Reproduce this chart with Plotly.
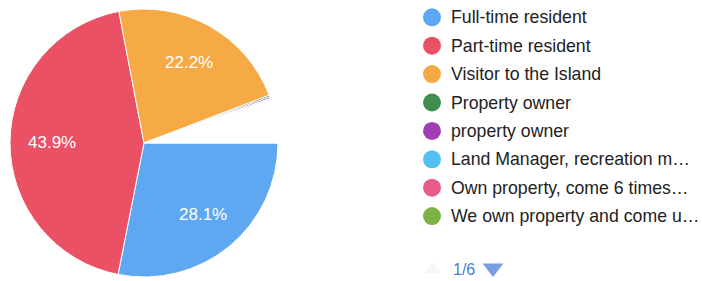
import math
import plotly.graph_objects as go

# ---- data ----
categories = [
    "Full-time resident",
    "Part-time resident",
    "Visitor to the Island",
    "Property owner",
    "property owner",
    "Land Manager, recreation m…",
    "Own property, come 6 times…",
    "We own property and come u…",
    "Other responses",
]
values = [28.1, 43.9, 22.2, 0.2, 0.2, 0.1, 0.1, 0.1, 5.1]
colors = ["#5ea8f2", "#ea5165", "#f6aa45", "#3f8e4e", "#a23eb3",
          "#52c0f0", "#ec5b90", "#7cb246", "#ffffff"]
legend_count = 8
page_label = "1/6"

W, H = 702, 281
FONT = "Arial, 'Liberation Sans', sans-serif"

# pie geometry in pixels
cx, cy, r = 144, 143, 134
start_deg = 90  # first slice starts at 3 o'clock, clockwise

fig = go.Figure()
fig.add_trace(go.Pie(
    labels=categories,
    values=values,
    sort=False,
    direction="clockwise",
    rotation=start_deg,
    marker=dict(colors=colors, line=dict(color="white", width=1)),
    textinfo="none",
    showlegend=False,
    hoverinfo="label+percent",
    domain=dict(x=[(cx - r) / W, (cx + r) / W],
                y=[(H - cy - r) / H, (H - cy + r) / H]),
))

annotations = []
# percentage labels at 0.69 r along each big slice's mid-angle
total = sum(values)
acc = 0.0
for v, c in zip(values, colors):
    if v >= 5 and c != "#ffffff":
        mid = math.radians(start_deg + (acc + v / 2) / total * 360)
        annotations.append(dict(
            x=cx + math.sin(mid) * 0.69 * r,
            y=cy - math.cos(mid) * 0.69 * r,
            xref="x", yref="y", text=f"{v / total * 100:.1f}%",
            showarrow=False, xanchor="center", yanchor="middle",
            font=dict(size=17, color="white", family=FONT),
        ))
    acc += v

# legend drawn on a hidden pixel-coordinate axis
lx, ly0, ldy = 432, 17.3, 28.4
ly = [ly0 + i * ldy for i in range(legend_count)]
fig.add_trace(go.Scatter(
    x=[lx] * legend_count, y=ly, mode="markers",
    marker=dict(size=18, color=colors[:legend_count], line=dict(width=0)),
    showlegend=False, hoverinfo="skip",
))
for i in range(legend_count):
    annotations.append(dict(
        x=lx + 17, y=ly[i], xref="x", yref="y", text=categories[i],
        showarrow=False, xanchor="left", yanchor="middle",
        font=dict(size=17.7, color="#222222", family=FONT),
    ))
py = 269.5
annotations.append(dict(
    x=451, y=py, xref="x", yref="y", text=page_label, showarrow=False,
    xanchor="left", yanchor="middle",
    font=dict(size=16, color="#4a7bd6", family=FONT),
))
fig.add_trace(go.Scatter(
    x=[433, 493], y=[py, py - 1.5], mode="markers",
    marker=dict(symbol=["triangle-up", "triangle-down"], size=[14, 18],
                color=["#f2f2f2", "#3f74da"], line=dict(width=0)),
    showlegend=False, hoverinfo="skip",
))

fig.update_layout(
    width=W, height=H,
    margin=dict(l=0, r=0, t=0, b=0),
    paper_bgcolor="white", plot_bgcolor="rgba(0,0,0,0)",
    xaxis=dict(range=[0, W], visible=False, fixedrange=True),
    yaxis=dict(range=[H, 0], visible=False, fixedrange=True),
    annotations=annotations,
    font=dict(family=FONT),
)

fig.write_html("out.html",
               config={"displayModeBar": False},
               post_script="document.body.style.margin='0px';"
                           "document.body.style.overflow='hidden';")
